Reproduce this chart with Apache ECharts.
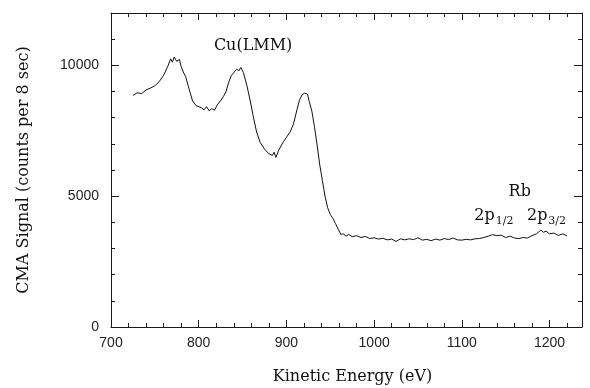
<!DOCTYPE html>
<html>
<head>
<meta charset="utf-8">
<script src="https://cdn.jsdelivr.net/npm/echarts@6/dist/echarts.min.js"></script>
<style>
html,body{margin:0;padding:0;background:#fff;}
#chart{width:590px;height:388px;}
</style>
</head>
<body>
<div id="chart"></div>
<script>
const energy = [725,730,735,740,745,750,755,760,765,768,770,772,775,778,780,783,785,788,790,793,797,800,803,806,809,812,815,818,821,825,828,831,834,837,840,843,846,848,851,855,859,862,866,870,875,880,884,886,888,891,896,900,904,908,912,915,918,921,924,926,929,932,935,938,941,944,947,950,953,956,959,962,965,968,971,975,980,985,990,995,1000,1005,1010,1015,1020,1025,1030,1035,1040,1045,1050,1055,1060,1065,1070,1075,1080,1085,1090,1095,1100,1105,1110,1115,1120,1125,1130,1135,1140,1145,1150,1155,1160,1165,1170,1175,1180,1185,1190,1193,1196,1200,1205,1210,1215,1220];
const signal = [8850,8950,8920,9060,9130,9220,9380,9620,9980,10250,10120,10320,10150,10230,9950,9700,9580,9220,8980,8640,8460,8420,8380,8300,8420,8260,8350,8280,8480,8650,8800,8980,9330,9600,9720,9850,9800,9920,9720,9220,8600,8080,7450,7060,6800,6620,6560,6680,6480,6740,7050,7250,7440,7750,8300,8680,8880,8940,8900,8620,8250,7650,6950,6200,5600,5000,4560,4300,4150,3950,3740,3540,3560,3470,3540,3450,3490,3420,3460,3380,3410,3360,3390,3330,3360,3270,3370,3330,3370,3340,3410,3320,3350,3300,3360,3320,3380,3340,3400,3330,3320,3350,3330,3370,3380,3420,3470,3530,3490,3510,3420,3470,3400,3380,3420,3400,3490,3560,3700,3620,3660,3560,3590,3500,3560,3480];

const xMajorTicks = [700,800,900,1000,1100,1200];
const yMajorTicks = [0,5000,10000];
const xTitle = 'Kinetic Energy (eV)';
const yTitle = 'CMA Signal (counts per 8 sec)';
const peakLabel = 'Cu(LMM)';
const peakLabelAt = [862, 10760];
const rbLabel = 'Rb';
const rbLabelAt = [1166, 5150];
const subLabels = [['2p','1/2',1135], ['2p','3/2',1195]];
const subLabelY = 4230;

const X_MIN = 700, X_MAX = 1237, Y_MIN = 0, Y_MAX = 12000;
const AX = '#1a1a1a';
const serif = 'DejaVu Serif';
const sans = 'Liberation Sans';

function xAx(pos, interval, len, labels, line) {
  return {
    type: 'value', min: X_MIN, max: X_MAX, interval: interval, position: pos,
    gridIndex: 0,
    axisLine: {show: line, onZero: false, lineStyle: {color: AX, width: 1}},
    axisTick: {show: true, inside: true, length: len, lineStyle: {color: AX, width: 1}},
    axisLabel: labels ? {show: true, margin: 9, color: '#222', fontFamily: sans, fontSize: 14,
      formatter: v => xMajorTicks.indexOf(v) >= 0 ? String(v) : ''} : {show: false},
    splitLine: {show: false}
  };
}
function yAx(pos, interval, len, labels, line) {
  return {
    type: 'value', min: Y_MIN, max: Y_MAX, interval: interval, position: pos,
    gridIndex: 0,
    axisLine: {show: line, onZero: false, lineStyle: {color: AX, width: 1}},
    axisTick: {show: true, inside: true, length: len, lineStyle: {color: AX, width: 1}},
    axisLabel: labels ? {show: true, margin: 12, color: '#222', fontFamily: sans, fontSize: 14,
      formatter: v => yMajorTicks.indexOf(v) >= 0 ? String(v) : ''} : {show: false},
    splitLine: {show: false}
  };
}

const chart = echarts.init(document.getElementById('chart'), null, {renderer: 'canvas'});
const data = energy.map((e, i) => [e, signal[i]]);

chart.setOption({
  animation: false,
  backgroundColor: '#fff',
  grid: {left: 111, right: 8, top: 13, bottom: 61, containLabel: false},
  xAxis: [
    xAx('bottom', 100, 7, true, true),
    xAx('bottom', 20, 4, false, false),
    xAx('top', 100, 7, false, true),
    xAx('top', 20, 4, false, false)
  ],
  yAxis: [
    yAx('left', 5000, 8, true, true),
    yAx('left', 1000, 4, false, false),
    yAx('right', 5000, 8, false, true),
    yAx('right', 1000, 4, false, false)
  ],
  series: [{
    type: 'line', xAxisIndex: 0, yAxisIndex: 0, data: data,
    showSymbol: false, symbol: 'none', smooth: false,
    lineStyle: {color: '#111', width: 1}
  }]
});

const P = p => chart.convertToPixel({xAxisIndex: 0, yAxisIndex: 0}, p);
const g = [];
const textStyle = (txt, size) => ({text: txt, fill: '#111', font: size + 'px "' + serif + '"', textAlign: 'center', textVerticalAlign: 'middle'});
let p = P(peakLabelAt);
g.push({type: 'text', x: p[0], y: p[1], style: textStyle(peakLabel, 16)});
p = P(rbLabelAt);
g.push({type: 'text', x: p[0], y: p[1], style: textStyle(rbLabel, 16)});
subLabels.forEach(s => {
  const q = P([s[2], subLabelY]);
  g.push({type: 'text', x: q[0] - 8, y: q[1], style: textStyle(s[0], 16)});
  g.push({type: 'text', x: q[0] + 12, y: q[1] + 5, style: textStyle(s[1], 11)});
});
// axis titles
const xa = P([(X_MIN + X_MAX) / 2, Y_MIN]);
g.push({type: 'text', x: xa[0] + 6, y: xa[1] + 50, style: textStyle(xTitle, 16)});
const ya = P([X_MIN, (Y_MIN + Y_MAX) / 2]);
g.push({type: 'text', x: 24, y: ya[1], rotation: Math.PI / 2, style: textStyle(yTitle, 16)});
chart.setOption({graphic: g});
</script>
</body>
</html>
